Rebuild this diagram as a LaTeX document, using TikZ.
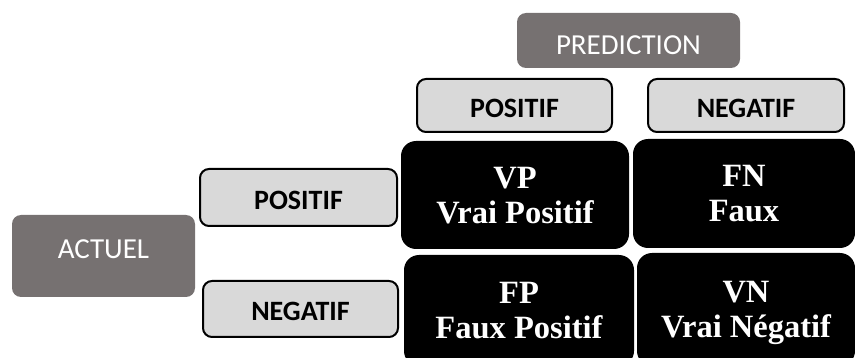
\documentclass[tikz,border=0pt]{standalone}
\usepackage{fontspec}
\setmainfont{Liberation Serif}
\newfontfamily\calibri{Carlito}
\definecolor{headgray}{HTML}{767171}
\definecolor{labgray}{HTML}{D9D9D9}
\begin{document}
\begin{tikzpicture}[x=1pt,y=-1pt,
  headbox/.style={rectangle, rounded corners=9pt, fill=headgray, text=white,
    font=\calibri\fontsize{29}{34}\selectfont, inner sep=0pt},
  labbox/.style={rectangle, rounded corners=9pt, draw=black, line width=2pt, fill=labgray,
    font=\calibri\bfseries\fontsize{28}{32}\selectfont, inner sep=0pt, text height=24pt, text depth=0pt},
  cellbox/.style={rectangle, rounded corners=15pt, fill=black, text=white,
    font=\bfseries\fontsize{32.5}{35}\selectfont, align=center, inner sep=0pt, text depth=0pt},
]
\useasboundingbox (0,0) rectangle (855,358);
\clip (0,0) rectangle (855,358);

\node[headbox, minimum width=223pt, minimum height=55pt, text height=28.5pt, text depth=0pt] (pred) at (628.5,40.5) {PREDICTION};
\node[headbox, minimum width=183pt, minimum height=82pt, text height=18.7pt, text depth=14pt] (act) at (103.5,256) {ACTUEL};

\node[labbox, minimum width=195pt, minimum height=53pt] (ppos) at (514.5,105.5) {POSITIF};
\node[labbox, minimum width=196pt, minimum height=53pt] (pneg) at (746,105.5) {NEGATIF};
\node[labbox, minimum width=197pt, minimum height=57pt] (apos) at (298.5,197.5) {POSITIF};
\node[labbox, minimum width=195pt, minimum height=56pt] (aneg) at (300.5,309) {NEGATIF};

\node[cellbox, minimum width=228pt, minimum height=108pt] (vp) at (515,195) {VP\\Vrai Positif};
\node[cellbox, minimum width=222pt, minimum height=109pt] (fn) at (744,193.5) {FN\\Faux};
\node[cellbox, minimum width=230pt, minimum height=111pt] (fp) at (519,310.5) {FP\\Faux Positif};
\node[cellbox, minimum width=218pt, minimum height=113pt] (vn) at (746,309.5) {VN\\Vrai Négatif};
\end{tikzpicture}
\end{document}
